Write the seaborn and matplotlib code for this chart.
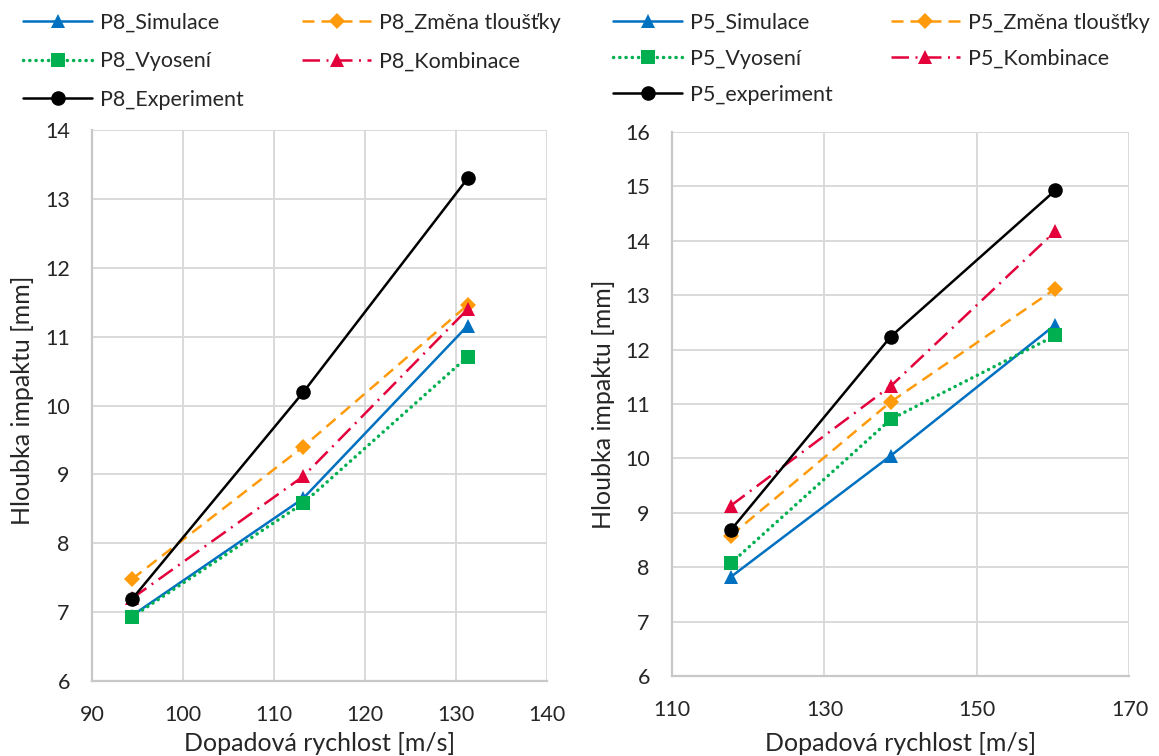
import matplotlib
matplotlib.use("Agg")
import matplotlib.pyplot as plt
import seaborn as sns

# P8 data
p8_speed = [94.4, 113.2, 131.3]
p8_simulace = [6.95, 8.65, 11.16]
p8_zmena = [7.48, 9.40, 11.46]
p8_vyoseni = [6.93, 8.58, 10.71]
p8_kombinace = [7.20, 8.97, 11.40]
p8_experiment = [7.19, 10.19, 13.30]

# P5 data
p5_speed = [117.7, 138.7, 160.3]
p5_simulace = [7.82, 10.05, 12.46]
p5_zmena = [8.58, 11.04, 13.12]
p5_vyoseni = [8.07, 10.72, 12.26]
p5_kombinace = [9.13, 11.33, 14.18]
p5_experiment = [8.68, 12.24, 14.93]

x_label = "Dopadová rychlost [m/s]"
y_label = "Hloubka impaktu [mm]"

sns.set_style("white")
plt.rcParams["font.family"] = ["Lato", "DejaVu Sans"]

BLUE = "#0070C0"
ORANGE = "#FF9B0A"
GREEN = "#00B050"
RED = "#E4003B"

styles = {
    "Simulace": dict(color=BLUE, marker="^", linestyle="-", ms=10.5, lw=1.8),
    "Změna tloušťky": dict(color=ORANGE, marker="D", linestyle=(0, (4.8, 2.8)), ms=8.5, lw=1.8),
    "Vyosení": dict(color=GREEN, marker="s", linestyle=(0, (0.05, 1.75)), ms=10, lw=2.5),
    "Kombinace": dict(color=RED, marker="^", linestyle=(0, (7, 2.6, 0.8, 2.6)), ms=10.5, lw=1.8),
    "Experiment": dict(color="black", marker="o", linestyle="-", ms=10.5, lw=1.8),
}

fig = plt.figure(figsize=(11.59, 7.56), dpi=100)
ax1 = fig.add_axes([0.0794, 0.0992, 0.3925, 0.7288])
ax2 = fig.add_axes([0.5798, 0.1058, 0.3947, 0.7196])


def draw(ax, speed, series, prefix, names):
    for key, vals, name in zip(styles.keys(), series, names):
        st = styles[key]
        sns.lineplot(x=speed, y=vals, ax=ax, color=st["color"], marker=st["marker"],
                     linestyle=st["linestyle"], markersize=st["ms"], markeredgewidth=0,
                     linewidth=st["lw"], dash_capstyle="round" if key == "Vyosení" else "butt",
                     label=prefix + name, legend=False)
    for side, spine in ax.spines.items():
        spine.set_visible(side in ("left", "bottom"))
        spine.set_color("#C8C8C8")
        spine.set_linewidth(1.6)
    ax.grid(True, color="#D9D9D9", linewidth=1.4)
    ax.set_axisbelow(True)
    ax.tick_params(axis="x", labelsize=15.5, length=0, pad=17)
    ax.tick_params(axis="y", labelsize=15.5, length=0, pad=16)
    ax.set_xlabel(x_label, fontsize=18)
    ax.set_ylabel(y_label, fontsize=18)
    return ax.get_legend_handles_labels()


h1, l1 = draw(ax1, p8_speed,
              [p8_simulace, p8_zmena, p8_vyoseni, p8_kombinace, p8_experiment],
              "P8_", ["Simulace", "Změna tloušťky", "Vyosení", "Kombinace", "Experiment"])
ax1.set_xlim(90, 140)
ax1.set_ylim(6, 14)
ax1.xaxis.set_label_coords(0.5, -0.092)
ax1.yaxis.set_label_coords(-0.127, 0.51)

h2, l2 = draw(ax2, p5_speed,
              [p5_simulace, p5_zmena, p5_vyoseni, p5_kombinace, p5_experiment],
              "P5_", ["Simulace", "Změna tloušťky", "Vyosení", "Kombinace", "experiment"])
ax2.set_xlim(110, 170)
ax2.set_xticks([110, 130, 150, 170])
ax2.set_ylim(6, 16)
ax2.set_yticks(range(6, 17))
ax2.xaxis.set_label_coords(0.5, -0.102)
ax2.yaxis.set_label_coords(-0.124, 0.5)

order = [0, 2, 4, 1, 3]
fig.legend([h1[i] for i in order], [l1[i] for i in order], loc="upper left",
           bbox_to_anchor=(0.02, 0.983), ncol=2, frameon=False, fontsize=15.5,
           handlelength=3.2, handletextpad=0.38, columnspacing=2.7,
           labelspacing=0.86, borderpad=0, borderaxespad=0)
fig.legend([h2[i] for i in order], [l2[i] for i in order], loc="upper left",
           bbox_to_anchor=(0.529, 0.983), ncol=2, frameon=False, fontsize=15.5,
           handlelength=3.2, handletextpad=0.38, columnspacing=2.7,
           labelspacing=0.74, borderpad=0, borderaxespad=0)

fig.savefig("out.png", dpi=100)
